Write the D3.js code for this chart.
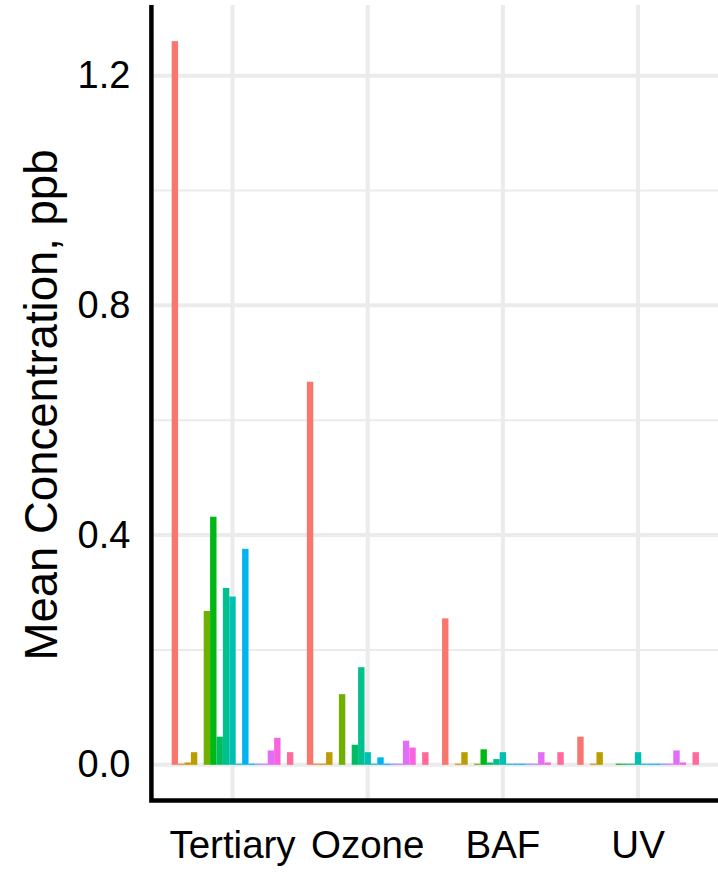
<!DOCTYPE html>
<html>
<head>
<meta charset="utf-8">
<script src="https://cdn.jsdelivr.net/npm/d3@7"></script>
<style>
  html, body { margin: 0; padding: 0; background: #fff; }
  svg { display: block; }
  text { font-family: "Liberation Sans", Arial, sans-serif; fill: #000; }
</style>
</head>
<body>
<svg id="chart" width="718" height="872"></svg>
<script>
// ---------------- data ----------------
const categories = ["Tertiary", "Ozone", "BAF", "UV"];
const seriesNames = [
  "Compound 1", "Compound 2", "Compound 3", "Compound 4", "Compound 5",
  "Compound 6", "Compound 7", "Compound 8", "Compound 9", "Compound 10",
  "Compound 11", "Compound 12", "Compound 13", "Compound 14", "Compound 15",
  "Compound 16", "Compound 17", "Compound 18", "Compound 19"
];
// mean concentration (ppb) per series, one array per treatment; null = not reported
const tertiaryValues = [1.26, 0.002, 0.004, 0.022, null, 0.268, 0.432, 0.049, 0.308, 0.293, 0.002, 0.376, 0.002, 0.002, 0.002, 0.025, 0.047, null, 0.022];
const ozoneValues    = [0.667, 0.002, 0.002, 0.022, null, 0.123, null, 0.035, 0.170, 0.022, 0.002, 0.013, 0.002, 0.002, 0.002, 0.042, 0.030, null, 0.022];
const bafValues      = [0.255, null, 0.002, 0.022, null, 0.002, 0.027, 0.004, 0.010, 0.022, 0.002, 0.002, 0.002, 0.002, 0.002, 0.022, 0.004, null, 0.022];
const uvValues       = [0.049, null, 0.002, 0.022, null, null, 0.002, 0.002, 0.002, 0.022, 0.002, 0.002, 0.002, 0.002, 0.002, 0.025, 0.004, null, 0.022];
const valuesByCategory = [tertiaryValues, ozoneValues, bafValues, uvValues];

const yTicks = [0.0, 0.4, 0.8, 1.2];
const yTickLabels = ["0.0", "0.4", "0.8", "1.2"];
const yMinorTicks = [0.2, 0.6, 1.0];
const yTitle = "Mean Concentration, ppb";

// ---------------- ggplot-like hue palette (polar LUV) ----------------
function hclLuv(h, c, l) {
  const hr = h * Math.PI / 180;
  const u = c * Math.cos(hr), v = c * Math.sin(hr);
  const Xn = 95.047, Yn = 100, Zn = 108.883;
  const den = Xn + 15 * Yn + 3 * Zn;
  const un = 4 * Xn / den, vn = 9 * Yn / den;
  const Y = Yn * Math.pow((l + 16) / 116, 3);
  const up = u / (13 * l) + un, vp = v / (13 * l) + vn;
  const X = 9 * Y * up / (4 * vp);
  const Z = -X / 3 - 5 * Y + 3 * Y / vp;
  const lin = [
    ( 3.240479 * X - 1.537150 * Y - 0.498535 * Z) / 100,
    (-0.969256 * X + 1.875992 * Y + 0.041556 * Z) / 100,
    ( 0.055648 * X - 0.204043 * Y + 1.057311 * Z) / 100
  ];
  const g = lin.map(x => {
    const s = x <= 0.0031308 ? 12.92 * x : 1.055 * Math.pow(x, 1 / 2.4) - 0.055;
    return Math.round(Math.max(0, Math.min(1, s)) * 255);
  });
  return d3.rgb(g[0], g[1], g[2]).formatHex();
}
const nS = seriesNames.length;
const palette = seriesNames.map((_, i) => hclLuv(15 + i * 360 / nS, 100, 65));
const color = d3.scaleOrdinal().domain(seriesNames).range(palette);

// ---------------- layout ----------------
const svg = d3.select("#chart");
const panel = { left: 151.4, right: 719.2, top: 5, bottom: 801 };

const x = d3.scaleBand()
  .domain(categories)
  .range([panel.left, panel.right])
  .paddingInner(0.1)
  .paddingOuter(0.15);
const xs = d3.scaleBand().domain(seriesNames).range([0, x.bandwidth()]).padding(0);

const maxV = d3.max(valuesByCategory.flat().filter(v => v != null));
const expand = maxV * 0.05;
const y = d3.scaleLinear().domain([-expand, maxV + expand]).range([panel.bottom, panel.top]);

const gridColor = "#EBEBEB";
const grid = svg.append("g");
// minor horizontal
grid.selectAll("line.minor").data(yMinorTicks).join("line")
  .attr("x1", panel.left).attr("x2", panel.right)
  .attr("y1", d => y(d)).attr("y2", d => y(d))
  .attr("stroke", gridColor).attr("stroke-width", 2);
// major horizontal
grid.selectAll("line.majorh").data(yTicks).join("line")
  .attr("x1", panel.left).attr("x2", panel.right)
  .attr("y1", d => y(d)).attr("y2", d => y(d))
  .attr("stroke", gridColor).attr("stroke-width", 4);
// major vertical
grid.selectAll("line.majorv").data(categories).join("line")
  .attr("x1", d => x(d) + x.bandwidth() / 2).attr("x2", d => x(d) + x.bandwidth() / 2)
  .attr("y1", panel.top).attr("y2", panel.bottom)
  .attr("stroke", gridColor).attr("stroke-width", 4);

// bars
const barData = [];
categories.forEach((c, ci) => {
  valuesByCategory[ci].forEach((v, si) => {
    if (v != null) barData.push({ cat: c, series: seriesNames[si], value: v });
  });
});
svg.append("g").selectAll("rect").data(barData).join("rect")
  .attr("x", d => x(d.cat) + xs(d.series))
  .attr("width", xs.bandwidth())
  .attr("y", d => Math.min(y(d.value), y(0)))
  .attr("height", d => Math.abs(y(0) - y(d.value)))
  .attr("fill", d => color(d.series));

// axes (lines only, no ticks)
const yAxis = d3.axisLeft(y).tickValues(yTicks).tickSize(0).tickPadding(21)
  .tickFormat((d, i) => yTickLabels[i]);
const gy = svg.append("g").attr("transform", `translate(${panel.left},0)`).call(yAxis);
gy.select(".domain").remove();
gy.selectAll("text").attr("font-size", 38).attr("fill", "#000")
  .attr("font-family", "Liberation Sans, Arial, sans-serif");

const xAxis = d3.axisBottom(x).tickSize(0).tickPadding(30);
const gx = svg.append("g").attr("transform", `translate(0,${panel.bottom})`).call(xAxis);
gx.select(".domain").remove();
gx.selectAll("text").attr("font-size", 38.5).attr("fill", "#000")
  .attr("font-family", "Liberation Sans, Arial, sans-serif");

svg.append("path")
  .attr("d", `M${panel.left},${panel.top} L${panel.left},${panel.bottom - 0.5} L${panel.right},${panel.bottom - 0.5}`)
  .attr("fill", "none").attr("stroke", "#000").attr("stroke-width", 4.5)
  .attr("stroke-linejoin", "miter");

// y title
svg.append("text")
  .attr("transform", `translate(57,${(panel.top + panel.bottom) / 2 + 2}) rotate(-90)`)
  .attr("text-anchor", "middle")
  .attr("font-size", 45.5)
  .text(yTitle);
</script>
</body>
</html>
